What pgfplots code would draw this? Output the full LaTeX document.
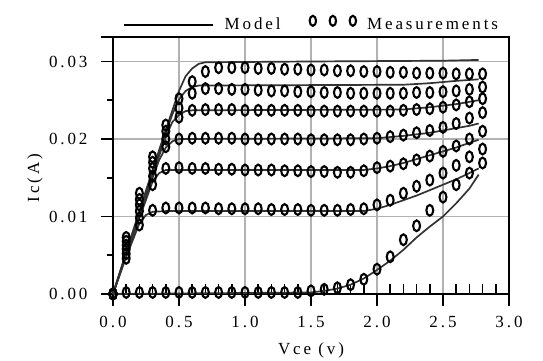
\documentclass[border=0pt]{standalone}
\usepackage{pgfplots}
\pgfplotsset{compat=1.18}
\usepackage{fontspec}
\setmainfont{Liberation Serif}[LetterSpace=17]

% measured collector current, one column per base-current step
\pgfplotstableread{
x    c0     c1     c2     c3     c4     c5     c6
0.0  0.0000 0.0000 0.0000 0.0000 0.0000 0.0000 0.0000
0.1  0.0002 0.0046 0.0052 0.0058 0.0063 0.0068 0.0073
0.2  0.0002 0.0089 0.0098 0.0107 0.0115 0.0122 0.0130
0.3  0.0002 0.0108 0.0141 0.0152 0.0162 0.0170 0.0177
0.4  0.0002 0.0111 0.0162 0.0190 0.0200 0.0210 0.0218
0.5  0.0002 0.0111 0.0163 0.0200 0.0228 0.0240 0.0252
0.6  0.0002 0.0111 0.0162 0.0201 0.0237 0.0259 0.0274
0.7  0.0002 0.0111 0.0162 0.0201 0.0238 0.0265 0.0287
0.8  0.0002 0.0110 0.0161 0.0201 0.0238 0.0265 0.0292
0.9  0.0002 0.0110 0.0161 0.0201 0.0238 0.0264 0.0292
1.0  0.0002 0.0110 0.0160 0.0200 0.0237 0.0264 0.0292
1.1  0.0002 0.0110 0.0160 0.0200 0.0237 0.0263 0.0291
1.2  0.0002 0.0109 0.0160 0.0200 0.0237 0.0262 0.0291
1.3  0.0002 0.0109 0.0159 0.0200 0.0237 0.0262 0.0290
1.4  0.0002 0.0109 0.0159 0.0200 0.0237 0.0261 0.0290
1.5  0.0004 0.0108 0.0158 0.0199 0.0236 0.0261 0.0289
1.6  0.0006 0.0108 0.0158 0.0199 0.0236 0.0260 0.0289
1.7  0.0008 0.0108 0.0157 0.0199 0.0236 0.0260 0.0288
1.8  0.0012 0.0109 0.0157 0.0199 0.0236 0.0259 0.0288
1.9  0.0019 0.0110 0.0159 0.0200 0.0236 0.0259 0.0287
2.0  0.0032 0.0115 0.0163 0.0201 0.0236 0.0259 0.0287
2.1  0.0048 0.0121 0.0165 0.0203 0.0236 0.0259 0.0286
2.2  0.0070 0.0130 0.0168 0.0205 0.0237 0.0259 0.0286
2.3  0.0088 0.0139 0.0173 0.0208 0.0238 0.0260 0.0285
2.4  0.0108 0.0147 0.0178 0.0211 0.0239 0.0260 0.0285
2.5  0.0125 0.0156 0.0184 0.0215 0.0241 0.0261 0.0285
2.6  0.0141 0.0166 0.0191 0.0220 0.0244 0.0262 0.0284
2.7  0.0156 0.0177 0.0200 0.0227 0.0248 0.0264 0.0284
2.8  0.0169 0.0187 0.0210 0.0234 0.0252 0.0267 0.0284
}\meas

\pgfplotsset{
  meas/.style={only marks, mark=o, mark size=5.4pt, black,
    mark options={xscale=0.64, line width=2.1pt, solid}},
  model/.style={no marks, black!80, line width=1.7pt},
  modelkey/.style={black, line width=1.5pt,
    legend image code/.code={\draw[##1] (0pt,0pt) -- (82pt,0pt); \path (0pt,0pt) -- (89pt,0pt);}},
  measkey/.style={only marks, mark=o, mark size=5.0pt, black,
    mark options={xscale=0.64, line width=2.1pt, solid},
    legend image code/.code={\draw[##1] plot coordinates {(4pt,4pt) (24pt,4pt) (44pt,4pt)};}},
}

\begin{document}
\begin{tikzpicture}[x=1pt,y=1pt]
\useasboundingbox (-113,-67) rectangle (430,294);
\begin{axis}[
  at={(0,0)}, anchor=south west,
  scale only axis, width=396pt, height=257pt,
  xmin=0, xmax=3, ymin=0, ymax=0.03316,
  clip=false,
  font=\fontsize{17}{20}\selectfont,
  axis line style={line width=1.4pt},
  tick pos=left,
  xtick={0,0.5,1,1.5,2,2.5,3},
  xticklabels={0.0,0.5,1.0,1.5,2.0,2.5,3.0},
  ytick={0,0.01,0.02,0.03},
  yticklabels={0.00,0.01,0.02,0.03},
  scaled y ticks=false,
  minor y tick num=1,
  tick align=outside,
  major tick length=12pt, minor tick length=6pt,
  every tick/.style={black, line width=1.7pt},
  yticklabel style={xshift=-10pt},
  xticklabel style={yshift=-7pt},
  grid=major,
  major grid style={black!30, line width=1.2pt},
  extra x ticks={0.1,0.2,0.3,0.4,0.6,0.7,0.8,0.9,1.1,1.2,1.3,1.4,1.6,1.7,1.8,1.9,2.1,2.2,2.3,2.4,2.6,2.7,2.8,2.9},
  extra x tick labels={},
  extra x tick style={grid=none, tick align=inside, major tick length=10pt},
  extra y ticks={0.03316},
  extra y tick labels={},
  extra y tick style={grid=none},
  xlabel={Vce (v)},
  ylabel={Ic(A)},
  xlabel style={at={(axis description cs:0.5,-0.218)}, anchor=center},
  ylabel style={at={(axis description cs:-0.197,0.451)}, anchor=center},
  legend style={draw=none, fill=none, at={(axis description cs:0.0253,1.052)},
    anchor=west, legend columns=2, inner sep=0pt,
    nodes={inner xsep=0pt, inner ysep=0pt},
    /tikz/every odd column/.append style={column sep=11pt},
    /tikz/every even column/.append style={column sep=29pt}},
  legend cell align=left,
]
\addlegendimage{modelkey}
\addlegendentry{Model}
\addlegendimage{measkey}
\addlegendentry{Measurements}

% measurements
\addplot[meas, forget plot] table[x=x, y=c0] {\meas};
\addplot[meas, forget plot] table[x=x, y=c1] {\meas};
\addplot[meas, forget plot] table[x=x, y=c2] {\meas};
\addplot[meas, forget plot] table[x=x, y=c3] {\meas};
\addplot[meas, forget plot] table[x=x, y=c4] {\meas};
\addplot[meas, forget plot] table[x=x, y=c5] {\meas};
\addplot[meas, forget plot] table[x=x, y=c6] {\meas};

% model curves
\addplot[model, forget plot] coordinates {(0,0) (1.5,0.0002) (1.6,0.0004) (1.7,0.0007) (1.8,0.0012) (1.9,0.0020) (2.0,0.0031) (2.1,0.0043) (2.2,0.0057) (2.3,0.0073) (2.4,0.0087) (2.5,0.0100) (2.6,0.0117) (2.7,0.0136) (2.77,0.0154)};
\addplot[model, forget plot] coordinates {(0,0) (0.1,0.0048) (0.2,0.0091) (0.25,0.0102) (0.3,0.0106) (0.4,0.0107) (1.9,0.0107) (2.0,0.0110) (2.1,0.0115) (2.2,0.0121) (2.3,0.0127) (2.4,0.0134) (2.5,0.0141) (2.6,0.0148) (2.7,0.0156) (2.77,0.0162)};
\addplot[model, forget plot] coordinates {(0,0) (0.1,0.0050) (0.2,0.0098) (0.3,0.0145) (0.35,0.0156) (0.4,0.0160) (1.9,0.0160) (2.0,0.0162) (2.1,0.0165) (2.2,0.0169) (2.3,0.0174) (2.4,0.0179) (2.5,0.0184) (2.6,0.0189) (2.7,0.0195) (2.77,0.0199)};
\addplot[model, forget plot] coordinates {(0,0) (0.1,0.0051) (0.2,0.0101) (0.3,0.0150) (0.35,0.0173) (0.4,0.0189) (0.45,0.0197) (0.5,0.0200) (2.0,0.0201) (2.2,0.0204) (2.4,0.0208) (2.5,0.0211) (2.6,0.0214) (2.7,0.0217) (2.77,0.0220)};
\addplot[model, forget plot] coordinates {(0,0) (0.1,0.0052) (0.2,0.0103) (0.3,0.0154) (0.4,0.0203) (0.45,0.0222) (0.5,0.0231) (0.55,0.0236) (0.6,0.0237) (2.2,0.0238) (2.4,0.0241) (2.6,0.0245) (2.77,0.0250)};
\addplot[model, forget plot] coordinates {(0,0) (0.1,0.0053) (0.2,0.0105) (0.3,0.0157) (0.4,0.0208) (0.45,0.0232) (0.5,0.0251) (0.55,0.0262) (0.6,0.0267) (0.65,0.0269) (2.2,0.0270) (2.4,0.0272) (2.6,0.0275) (2.77,0.0277)};
\addplot[model, forget plot] coordinates {(0,0) (0.1,0.0054) (0.2,0.0107) (0.3,0.0160) (0.4,0.0212) (0.5,0.0262) (0.55,0.0281) (0.6,0.0291) (0.65,0.0297) (0.7,0.0299) (1.5,0.0300) (2.5,0.0301) (2.77,0.0302)};
\end{axis}
\end{tikzpicture}
\end{document}
